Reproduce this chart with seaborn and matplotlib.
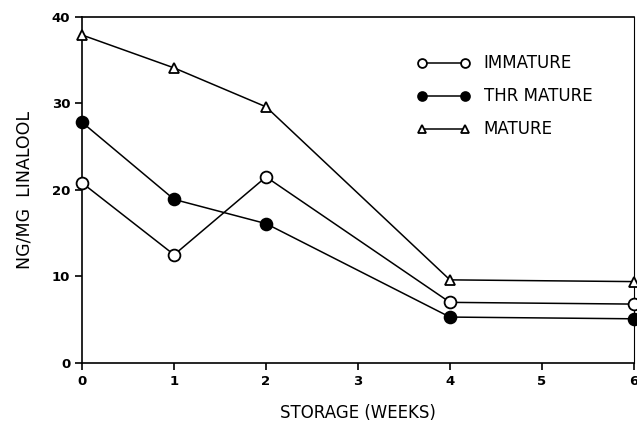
import numpy as np
import pandas as pd
import seaborn as sns
from matplotlib import pyplot as plt

weeks = [0, 1, 2, 4, 6]
immature = [20.8, 12.5, 21.5, 7.0, 6.8]
thr_mature = [27.8, 18.9, 16.1, 5.3, 5.1]
mature = [37.9, 34.1, 29.6, 9.6, 9.4]

sns.set_theme(style='ticks')
plt.rcParams['font.family'] = ['DejaVu Sans']
plt.rcParams['text.color'] = 'black'
plt.rcParams['axes.labelcolor'] = 'black'

fig = plt.figure(figsize=(6.37, 4.22), dpi=100)
ax = fig.add_axes([0.129, 0.140, 0.866, 0.820])

series = [
    ('IMMATURE', immature, 'o', 'white', 8.5),
    ('THR MATURE', thr_mature, 'o', 'black', 8.5),
    ('MATURE', mature, '^', 'white', 7),
]
for name, vals, mk, fc, ms in series:
    df = pd.DataFrame({'week': weeks, 'val': vals})
    sns.lineplot(data=df, x='week', y='val', ax=ax, color='black', lw=1.1,
                 marker=mk, markersize=ms, markerfacecolor=fc,
                 markeredgecolor='black', markeredgewidth=1.3, label=name,
                 clip_on=False, zorder=3)

ax.set_xlim(0, 6)
ax.set_ylim(0, 40)
ax.set_xticks(range(0, 7))
ax.set_yticks(range(0, 41, 10))
for s in ax.spines.values():
    s.set_visible(True)
    s.set_color('black')
    s.set_linewidth(1.2)
ax.spines['right'].set_linewidth(0.8)
ax.tick_params(direction='out', length=5, width=1.2, colors='black', labelsize=9.5)
for t in ax.get_xticklabels() + ax.get_yticklabels():
    t.set_fontweight('bold')

ax.set_xlabel('STORAGE (WEEKS)', fontsize=12, labelpad=12)
ax.set_ylabel('NG/MG  LINALOOL', fontsize=12.5, labelpad=13)

leg = ax.legend(loc='upper left', bbox_to_anchor=(0.58, 0.935), frameon=False,
                numpoints=2, handlelength=3.2, fontsize=12, labelspacing=0.9,
                handletextpad=0.8, markerscale=0.75)

fig.savefig('out.png', dpi=100)
